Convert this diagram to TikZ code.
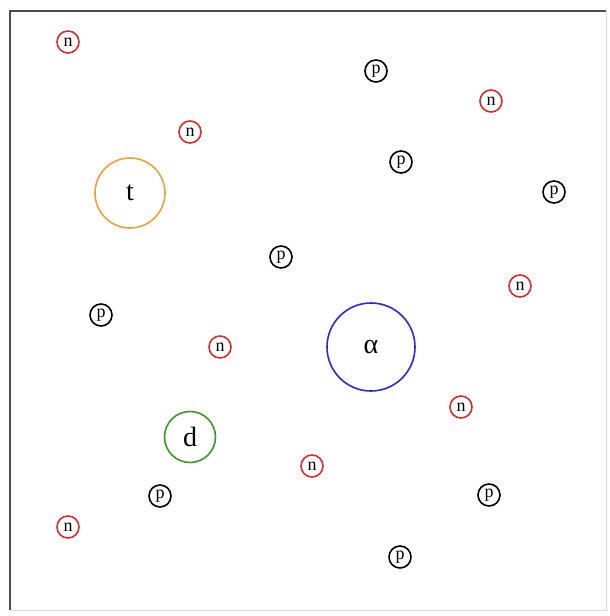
\documentclass[tikz,border=0pt]{standalone}
\usepackage{fontspec}
\setmainfont{Liberation Serif}
\definecolor{nred}{HTML}{D03030}
\definecolor{torange}{HTML}{E8A43C}
\definecolor{ablue}{HTML}{2B2BD0}
\definecolor{dgreen}{HTML}{3F9432}
\begin{document}
\begin{tikzpicture}[x=1pt,y=-1pt,
  small/.style={circle,line width=1.6pt,minimum size=22pt,inner sep=0pt,font=\fontsize{18}{18}\selectfont},
  ncirc/.style={small,draw=nred},
  pcirc/.style={small,draw=black},
  big/.style={circle,line width=1.6pt,inner sep=0pt,font=\fontsize{28}{28}\selectfont}]
\useasboundingbox (0,0) rectangle (610,616);
\fill[white] (0,0) rectangle (610,616);
\draw[gray!30,line width=1pt] (10,11) rectangle (606,610);
\draw[black!70,line width=2.5pt] (10,610) -- (10,11) -- (606,11);
% big circles
\node[big,draw=torange,minimum size=70pt] (t) at (130,193) {t};
\node[big,draw=ablue,minimum size=88pt] (a) at (371,347) {α};
\node[big,draw=dgreen,minimum size=51pt] (d) at (190,437) {d};
% n
\node[ncirc] (n1) at (68,42) {n};
\node[ncirc] (n2) at (190,132) {n};
\node[ncirc] (n3) at (491,101) {n};
\node[ncirc] (n4) at (520,286) {n};
\node[ncirc] (n5) at (220,347) {n};
\node[ncirc] (n6) at (461,407) {n};
\node[ncirc] (n7) at (312,466) {n};
\node[ncirc] (n8) at (68,527) {n};
% p
\node[pcirc] (p1) at (376,71) {p};
\node[pcirc] (p2) at (401,162) {p};
\node[pcirc] (p3) at (554,192) {p};
\node[pcirc] (p4) at (281,257) {p};
\node[pcirc] (p5) at (101,315) {p};
\node[pcirc] (p6) at (160,496) {p};
\node[pcirc] (p7) at (489,495) {p};
\node[pcirc] (p8) at (400,557) {p};
\end{tikzpicture}
\end{document}
